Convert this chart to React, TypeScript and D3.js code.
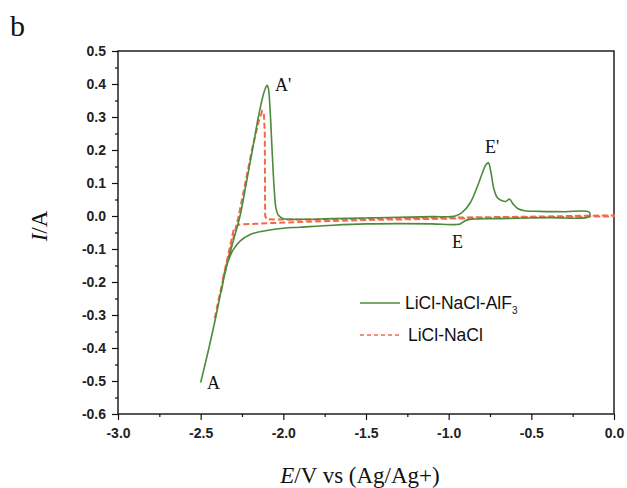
import React, { useEffect, useRef } from 'react';
import * as d3 from 'd3';

// LiCl-NaCl-AlF3 cyclic voltammogram (E in V, I in A), in scan order
const alfE = [-2.5, -2.45, -2.406, -2.365, -2.316, -2.262, -2.224, -2.187, -2.151, -2.125, -2.108, -2.098, -2.09, -2.08, -2.068, -2.055, -2.045, -2.03, -2.0, -1.9, -1.7, -1.5, -1.3, -1.1, -0.96, -0.92, -0.872, -0.83, -0.8, -0.775, -0.76, -0.745, -0.728, -0.705, -0.68, -0.655, -0.632, -0.61, -0.58, -0.54, -0.45, -0.3, -0.15,
  -0.15, -0.4, -0.69, -0.88, -0.905, -0.93, -0.96, -1.1, -1.3, -1.5, -1.7, -1.9, -2.0, -2.1, -2.2, -2.262, -2.303, -2.327, -2.343, -2.355, -2.375];
const alfI = [-0.505, -0.4, -0.3, -0.2, -0.1, 0.0, 0.1, 0.2, 0.3, 0.36, 0.388, 0.396, 0.385, 0.32, 0.2, 0.08, 0.025, 0.002, -0.008, -0.01, -0.008, -0.006, -0.004, -0.002, 0.0, 0.01, 0.038, 0.085, 0.125, 0.155, 0.161, 0.135, 0.085, 0.055, 0.047, 0.044, 0.051, 0.036, 0.022, 0.016, 0.014, 0.013, 0.012,
  -0.002, -0.005, -0.008, -0.011, -0.016, -0.024, -0.026, -0.024, -0.023, -0.024, -0.028, -0.034, -0.037, -0.044, -0.056, -0.076, -0.102, -0.128, -0.15, -0.175, -0.23];

// LiCl-NaCl voltammogram
const naclE = [-2.415, -2.39, -2.35, -2.316, -2.27, -2.23, -2.19, -2.15, -2.128, -2.118, -2.112, -2.111, -2.11, -2.1, -1.9, -1.5, -1.0, -0.5, 0.0,
  0.0, -0.5, -1.0, -1.5, -1.9, -2.1, -2.27, -2.3, -2.33, -2.37];
const naclI = [-0.31, -0.25, -0.16, -0.095, 0.0, 0.1, 0.2, 0.285, 0.318, 0.312, 0.25, 0.1, 0.0, -0.01, -0.011, -0.008, -0.005, -0.002, 0.002,
  -0.001, -0.004, -0.008, -0.012, -0.018, -0.022, -0.026, -0.04, -0.11, -0.2];

const xTicks = [-3.0, -2.5, -2.0, -1.5, -1.0, -0.5, 0.0];
const yTicks = [0.5, 0.4, 0.3, 0.2, 0.1, 0.0, -0.1, -0.2, -0.3, -0.4, -0.5, -0.6];

const GREEN = '#4b8b3b';
const RED = '#f4694c';

export default function App() {
  const ref = useRef<SVGSVGElement>(null);

  useEffect(() => {
    const svg = d3.select(ref.current);
    svg.selectAll('*').remove();

    const left = 118, right = 614, top = 51, bottom = 414;
    const x = d3.scaleLinear().domain([-3.0, 0.0]).range([left, right]);
    const y = d3.scaleLinear().domain([-0.6, 0.5]).range([bottom, top]);
    const sans = '"Liberation Sans", Arial, sans-serif';
    const serif = '"Liberation Serif", "Times New Roman", serif';
    const fmt = (d: any) => d3.format('.1f')(d).replace('−', '-');

    // axes: minor ticks and major ticks in separate groups
    svg.append('g').attr('transform', `translate(0,${bottom})`)
      .call(d3.axisBottom(x).tickValues(d3.range(-2.75, 0, 0.5)).tickSize(3).tickFormat(() => ''));
    svg.append('g').attr('transform', `translate(0,${bottom})`)
      .call(d3.axisBottom(x).tickValues(xTicks).tickSize(6).tickPadding(8).tickFormat(fmt));
    svg.append('g').attr('transform', `translate(${left},0)`)
      .call(d3.axisLeft(y).tickValues(d3.range(-0.55, 0.5, 0.1)).tickSize(3).tickFormat(() => ''));
    svg.append('g').attr('transform', `translate(${left},0)`)
      .call(d3.axisLeft(y).tickValues(yTicks).tickSize(6).tickPadding(6).tickFormat(fmt));
    svg.selectAll('.domain').remove();
    svg.selectAll('.tick line').attr('stroke', '#111').attr('stroke-width', 1.2);
    svg.selectAll('.tick text').attr('font-family', sans).attr('font-size', 14)
      .attr('fill', '#222').attr('font-weight', 'bold');

    svg.append('rect')
      .attr('x', left).attr('y', top)
      .attr('width', right - left).attr('height', bottom - top)
      .attr('fill', 'none').attr('stroke', '#111').attr('stroke-width', 1.4);

    // curves
    const red = naclE.map((e, i) => [e, naclI[i]] as [number, number]);
    const green = alfE.map((e, i) => [e, alfI[i]] as [number, number]);

    const g = svg.append('g');
    g.append('path')
      .attr('d', d3.line().x(d => x(d[0])).y(d => y(d[1])).curve(d3.curveLinear)(red))
      .attr('fill', 'none').attr('stroke', RED).attr('stroke-width', 2)
      .attr('stroke-dasharray', '6,3');
    g.append('path')
      .attr('d', d3.line().x(d => x(d[0])).y(d => y(d[1])).curve(d3.curveCatmullRom.alpha(0.5))(green))
      .attr('fill', 'none').attr('stroke', GREEN).attr('stroke-width', 1.6);

    // annotations
    const notes = [
      { t: "A'", x: 275, y: 91 },
      { t: "E'", x: 485, y: 153 },
      { t: 'E', x: 452, y: 248 },
      { t: 'A', x: 207, y: 389 },
    ];
    svg.selectAll('.note').data(notes).enter().append('text')
      .attr('x', d => d.x).attr('y', d => d.y)
      .attr('font-family', serif).attr('font-size', 18)
      .attr('fill', '#111').text(d => d.t);

    // legend
    svg.append('line').attr('x1', 360).attr('x2', 400).attr('y1', 303).attr('y2', 303)
      .attr('stroke', GREEN).attr('stroke-width', 1.6);
    const l1 = svg.append('text').attr('x', 405).attr('y', 309)
      .attr('font-family', sans).attr('font-size', 17.5).attr('fill', '#111');
    l1.append('tspan').text('LiCl-NaCl-AlF');
    l1.append('tspan').attr('font-size', 10).attr('dy', 5).text('3');
    svg.append('line').attr('x1', 360).attr('x2', 400).attr('y1', 335).attr('y2', 335)
      .attr('stroke', RED).attr('stroke-width', 1.6).attr('stroke-dasharray', '4,3');
    svg.append('text').attr('x', 408).attr('y', 341)
      .attr('font-family', sans).attr('font-size', 17.5).attr('fill', '#111').text('LiCl-NaCl');

    // axis titles
    const xt = svg.append('text').attr('x', 360).attr('y', 483).attr('text-anchor', 'middle')
      .attr('font-family', serif).attr('font-size', 23).attr('fill', '#111');
    xt.append('tspan').attr('font-style', 'italic').text('E');
    xt.append('tspan').text('/V vs (Ag/Ag+)');
    const yt = svg.append('text').attr('transform', 'translate(47,226) rotate(-90)')
      .attr('text-anchor', 'middle')
      .attr('font-family', serif).attr('font-size', 23).attr('fill', '#111');
    yt.append('tspan').attr('font-style', 'italic').text('I');
    yt.append('tspan').text('/A');

    svg.append('text').attr('x', 10).attr('y', 36)
      .attr('font-family', serif).attr('font-size', 30).attr('fill', '#111').text('b');
  }, []);

  return (
    <svg ref={ref} width={627} height={488}
      style={{ position: 'absolute', left: 0, top: 0, background: '#fff' }} />
  );
}
